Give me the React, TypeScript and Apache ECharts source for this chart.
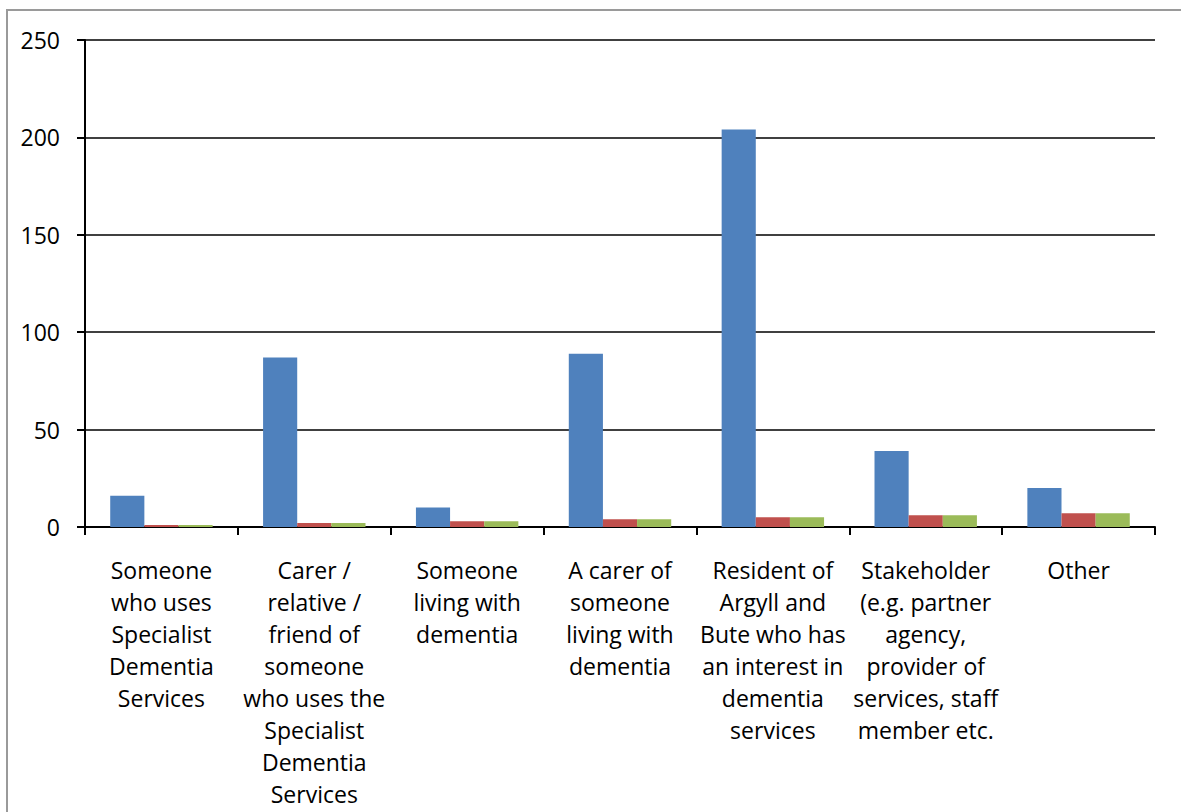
import React, { useEffect, useRef } from "react";
import * as echarts from "echarts";

const categories: string[] = [
  "Someone\nwho uses\nSpecialist\nDementia\nServices",
  "Carer /\nrelative /\nfriend of\nsomeone\nwho uses the\nSpecialist\nDementia\nServices",
  "Someone\nliving with\ndementia",
  "A carer of\nsomeone\nliving with\ndementia",
  "Resident of\nArgyll and\nBute who has\nan interest in\ndementia\nservices",
  "Stakeholder\n(e.g. partner\nagency,\nprovider of\nservices, staff\nmember etc.",
  "Other",
];

const series1: number[] = [16, 87, 10, 89, 204, 39, 20];
const series2: number[] = [1, 2, 3, 4, 5, 6, 7];
const series3: number[] = [1, 2, 3, 4, 5, 6, 7];

const yMin = 0;
const yMax = 250;
const yInterval = 50;

const FONT = "'Open Sans', 'Noto Sans', sans-serif";

export default function App() {
  const ref = useRef<HTMLDivElement>(null);

  useEffect(() => {
    if (!ref.current) return;
    const chart = echarts.init(ref.current, null, { renderer: "svg" });
    chart.setOption({
      animation: false,
      backgroundColor: "#ffffff",
      graphic: [
        {
          type: "rect",
          shape: { x: 7, y: 10, width: 1300, height: 900 },
          style: { fill: "none", stroke: "#9a9a9a", lineWidth: 2 },
          silent: true,
        },
      ],
      grid: { left: 85, right: 26, top: 40, bottom: 285, containLabel: false },
      xAxis: {
        type: "category",
        data: categories,
        axisLine: { show: true, lineStyle: { color: "#000", width: 2 } },
        axisTick: { show: true, length: 8, lineStyle: { color: "#000", width: 2 } },
        axisLabel: {
          interval: 0,
          margin: 27,
          color: "#000",
          fontFamily: FONT,
          fontSize: 23,
          lineHeight: 32,
          align: "center",
        },
        splitLine: { show: false },
      },
      yAxis: {
        type: "value",
        min: yMin,
        max: yMax,
        interval: yInterval,
        axisLine: { show: true, lineStyle: { color: "#000", width: 2 } },
        axisTick: { show: true, inside: false, length: 8, lineStyle: { color: "#000", width: 2 } },
        axisLabel: {
          margin: 25,
          color: "#000",
          fontFamily: FONT,
          fontSize: 23,
        },
        splitLine: { show: true, lineStyle: { color: "#000", width: 1.5 } },
      },
      series: [
        {
          name: "Series 1",
          type: "bar",
          data: series1,
          itemStyle: { color: "#4F81BD" },
          barGap: "0%",
          barCategoryGap: "33%",
        },
        {
          name: "Series 2",
          type: "bar",
          data: series2,
          itemStyle: { color: "#C0504D" },
          barGap: "0%",
          barCategoryGap: "33%",
        },
        {
          name: "Series 3",
          type: "bar",
          data: series3,
          itemStyle: { color: "#9BBB59" },
          barGap: "0%",
          barCategoryGap: "33%",
        },
      ],
    });
    return () => chart.dispose();
  }, []);

  return (
    <div
      ref={ref}
      style={{ position: "absolute", left: 0, top: 0, width: 1181, height: 812 }}
    />
  );
}
